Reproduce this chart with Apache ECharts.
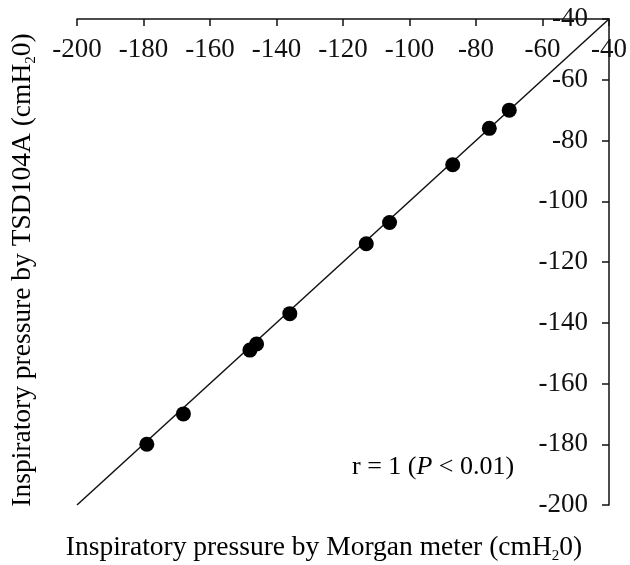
<!DOCTYPE html>
<html>
<head>
<meta charset="utf-8">
<script src="https://cdn.jsdelivr.net/npm/echarts@6/dist/echarts.min.js"></script>
<style>
  html, body { margin: 0; padding: 0; background: #fff; }
  #chart { width: 630px; height: 565px; }
</style>
</head>
<body>
<div id="chart"></div>
<script>
// Paired readings (cmH2O): Morgan meter vs TSD104A transducer
const morganMeter = [-179, -168, -148, -146, -136, -113, -106, -87, -76, -70];
const tsd104a     = [-180, -170, -149, -147, -137, -114, -107, -88, -76, -70];

// Shared axis range for both instruments
const axisMin = -200;
const axisMax = -40;
const axisStep = 20;

// Line of identity across the full range
const identityX = [-200, -40];
const identityY = [-200, -40];

const FONT = 'Liberation Serif';
const INK = '#111';

const points = morganMeter.map((x, i) => [x, tsd104a[i]]);
const identity = identityX.map((x, i) => [x, identityY[i]]);

const titleRich = {
  t: { fontFamily: FONT, fontSize: 27.5, color: INK, lineHeight: 32, verticalAlign: 'middle' },
  s: { fontFamily: FONT, fontSize: 15, color: INK, lineHeight: 17, verticalAlign: 'bottom' }
};

const chart = echarts.init(document.getElementById('chart'), null, { renderer: 'canvas' });

chart.setOption({
  animation: false,
  backgroundColor: '#fff',
  grid: { left: 77, right: 20, top: 19, bottom: 60, containLabel: false },
  xAxis: {
    type: 'value',
    position: 'top',
    min: axisMin, max: axisMax, interval: axisStep,
    axisLine: { show: true, onZero: false, lineStyle: { color: INK, width: 1.5 } },
    axisTick: { show: true, inside: true, length: 7, lineStyle: { color: INK, width: 1.5 } },
    axisLabel: {
      inside: true, margin: 17, showMinLabel: true, showMaxLabel: true,
      fontFamily: FONT, fontSize: 27, color: INK
    },
    splitLine: { show: false }
  },
  yAxis: {
    type: 'value',
    position: 'right',
    min: axisMin, max: axisMax, interval: axisStep,
    axisLine: { show: true, onZero: false, lineStyle: { color: INK, width: 1.5 } },
    axisTick: { show: true, inside: true, length: 7, lineStyle: { color: INK, width: 1.5 } },
    axisLabel: {
      inside: true, margin: 21, showMinLabel: true, showMaxLabel: true,
      fontFamily: FONT, fontSize: 27, color: INK
    },
    splitLine: { show: false }
  },
  series: [
    {
      type: 'line',
      data: identity,
      symbol: 'none',
      lineStyle: { color: INK, width: 1.5 },
      z: 1
    },
    {
      type: 'scatter',
      data: points,
      symbol: 'circle',
      symbolSize: 15,
      itemStyle: { color: '#000', opacity: 1 },
      z: 3
    }
  ],
  graphic: [
    {
      type: 'text',
      x: 324, y: 548,
      style: {
        text: '{t|Inspiratory pressure by Morgan meter (cmH}{s|2}{t|0)}',
        rich: titleRich,
        align: 'center', verticalAlign: 'middle',
        textAlign: 'center', textVerticalAlign: 'middle'
      }
    },
    {
      type: 'text',
      x: 23, y: 270,
      rotation: Math.PI / 2,
      style: {
        text: '{t|Inspiratory pressure by TSD104A (cmH}{s|2}{t|0)}',
        rich: titleRich,
        align: 'center', verticalAlign: 'middle',
        textAlign: 'center', textVerticalAlign: 'middle'
      }
    },
    {
      type: 'text',
      x: 352, y: 467,
      style: {
        text: '{n|r = 1 (}{i|P}{n| < 0.01)}',
        rich: {
          n: { fontFamily: FONT, fontSize: 26, color: INK, lineHeight: 30 },
          i: { fontFamily: FONT, fontSize: 26, color: INK, fontStyle: 'italic', lineHeight: 30 }
        },
        align: 'left', verticalAlign: 'middle',
        textAlign: 'left', textVerticalAlign: 'middle'
      }
    }
  ]
});
</script>
</body>
</html>
